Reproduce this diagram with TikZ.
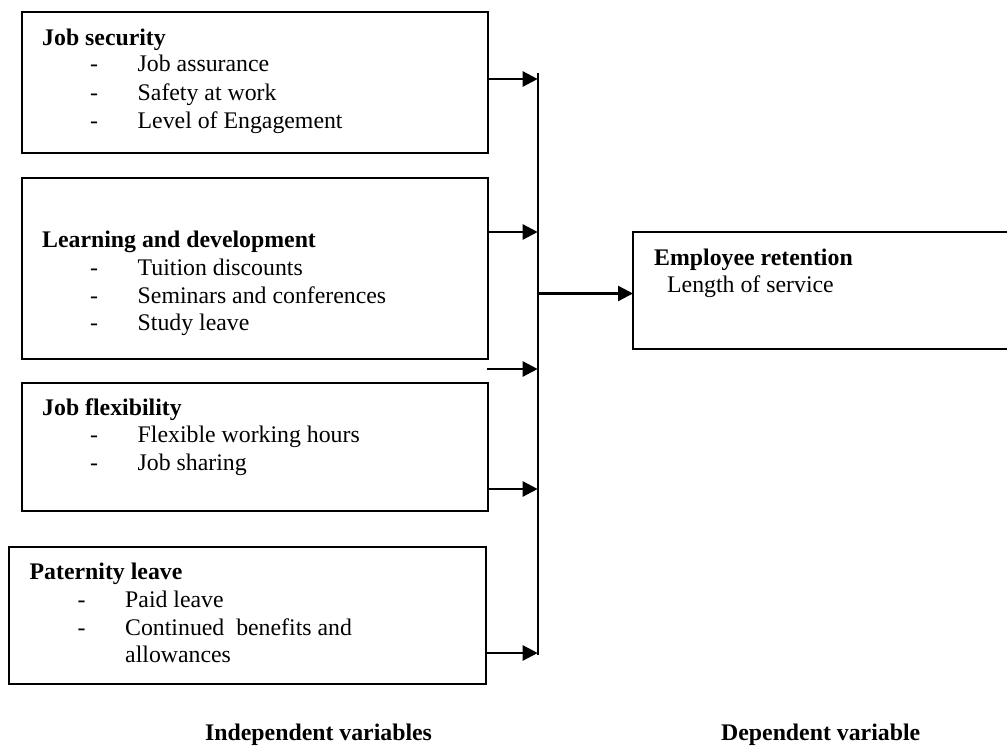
\documentclass[tikz,border=0pt]{standalone}
\usepackage{fontspec}
\setmainfont{Liberation Serif}
\usetikzlibrary{arrows.meta}
\begin{document}
\begin{tikzpicture}[x=1pt,y=-1pt,
  box/.style={draw=black, line width=2.2pt, rectangle, inner sep=0pt, outer sep=0pt, anchor=north west},
  txt/.style={inner sep=0pt, anchor=base west, font=\fontsize{23.8}{28}\selectfont},
  hd/.style={inner sep=0pt, anchor=base west, font=\fontsize{23.8}{28}\selectfont\bfseries},
  conn/.style={line width=2.4pt},
  arr/.style={line width=2.4pt, -{Triangle[length=15pt,width=15pt]}}
]
\useasboundingbox (0,0) rectangle (1007,745);

% boxes
\node[box, minimum width=466pt, minimum height=141pt] (b1) at (21.7,11.7) {};
\node[box, minimum width=466pt, minimum height=181pt] (b2) at (21.7,178) {};
\node[box, minimum width=466.3pt, minimum height=128pt] (b3) at (21.7,383) {};
\node[box, minimum width=477pt, minimum height=137pt] (b4) at (9,547) {};
\node[box, minimum width=390pt, minimum height=117pt] (emp) at (633,232) {};

% box 1
\node[hd] (t1) at (42,45) {Job security};
\node[txt] (d1a) at (90,71.7) {-};
\node[txt] (i1a) at (137.5,71.7) {Job assurance};
\node[txt] (d1b) at (90,100) {-};
\node[txt] (i1b) at (137.5,100) {Safety at work};
\node[txt] (d1c) at (90,128) {-};
\node[txt] (i1c) at (137.5,128) {Level of Engagement};

% box 2
\node[hd] (t2) at (42,247) {Learning and development};
\node[txt] (d2a) at (90,275) {-};
\node[txt] (i2a) at (137.5,275) {Tuition discounts};
\node[txt] (d2b) at (90,303) {-};
\node[txt] (i2b) at (137.5,303) {Seminars and conferences};
\node[txt] (d2c) at (90,330.5) {-};
\node[txt] (i2c) at (137.5,330.5) {Study leave};

% box 3
\node[hd] (t3) at (42,415) {Job flexibility};
\node[txt] (d3a) at (90,442.7) {-};
\node[txt] (i3a) at (137.5,442.7) {Flexible working hours};
\node[txt] (d3b) at (90,470) {-};
\node[txt] (i3b) at (137.5,470) {Job sharing};

% box 4
\node[hd] (t4) at (29.5,579) {Paternity leave};
\node[txt] (d4a) at (77.5,607) {-};
\node[txt] (i4a) at (125,607) {Paid leave};
\node[txt] (d4b) at (77.5,635) {-};
\node[txt] (i4b) at (125,635) {Continued\ \ benefits and};
\node[txt] (i4c) at (125,662.5) {allowances};

% dependent box
\node[hd] (te) at (654,265) {Employee retention};
\node[txt] (ie) at (667,292.7) {Length of service};

% bottom labels
\node[hd] (lind) at (205,740) {Independent variables};
\node[hd] (ldep) at (721,740) {Dependent variable};

% bus and arrows
\coordinate (bt) at (537.7,73);
\coordinate (bb) at (537.7,655);
\draw[conn] (bt) -- (bb);
\coordinate (j1) at (537.7,79);
\coordinate (j2) at (537.7,232);
\coordinate (j3) at (537.7,369);
\coordinate (s3) at (486.7,369);
\coordinate (j4) at (537.7,489);
\coordinate (j5) at (537.7,653);
\coordinate (jm) at (537.7,293.5);
\draw[arr] (b1.east |- j1) -- (j1);
\draw[arr] (b2.east |- j2) -- (j2);
\draw[arr] (s3) -- (j3);
\draw[arr] (b3.east |- j4) -- (j4);
\draw[arr] (b4.east |- j5) -- (j5);
\draw[arr] (jm) -- (emp.west |- jm);
\end{tikzpicture}
\end{document}
